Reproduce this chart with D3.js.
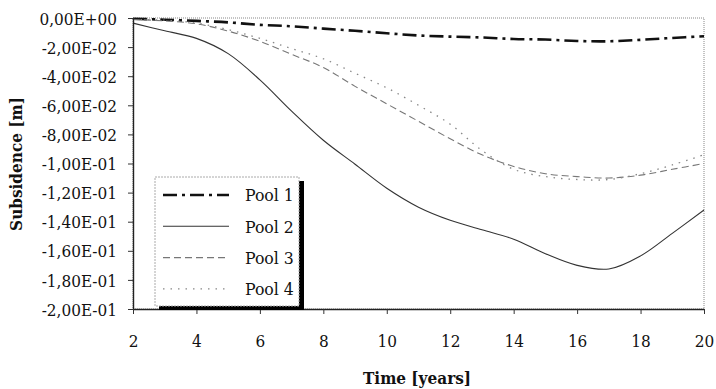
<!DOCTYPE html>
<html>
<head>
<meta charset="utf-8">
<script src="https://cdn.jsdelivr.net/npm/d3@7"></script>
<style>
  body { margin: 0; background: #fff; }
  svg text { font-family: "DejaVu Serif Condensed", "DejaVu Serif", serif; font-stretch: condensed; fill: #111; }
</style>
</head>
<body>
<div id="chart"></div>
<script>
// --------------------------------------------------
// Subsidence of the four pools over time

var years = [2, 3, 4, 5, 6, 7, 8, 9, 10, 11, 12, 13, 14, 15, 16, 17, 18, 19, 20];
var pool1 = [-0.0005, -0.0012, -0.002, -0.003, -0.0047, -0.0057, -0.0073, -0.0088, -0.0105, -0.012,
    -0.0128, -0.0134, -0.0144, -0.0148, -0.0158, -0.016, -0.015, -0.0137, -0.0125];
var pool2 = [-0.0035, -0.0088, -0.014, -0.0245, -0.0425, -0.064, -0.084, -0.1005, -0.117, -0.130,
    -0.139, -0.1455, -0.152, -0.162, -0.170, -0.1725, -0.1635, -0.148, -0.132];
var pool3 = [-0.001, -0.002, -0.004, -0.009, -0.016, -0.025, -0.034, -0.047, -0.059, -0.071,
    -0.083, -0.094, -0.102, -0.107, -0.109, -0.110, -0.108, -0.104, -0.100];
var pool4 = [-0.001, -0.0015, -0.0035, -0.008, -0.014, -0.021, -0.028, -0.038, -0.048, -0.060,
    -0.073, -0.091, -0.104, -0.109, -0.111, -0.111, -0.107, -0.101, -0.094];
var seriesNames = ["Pool 1", "Pool 2", "Pool 3", "Pool 4"];
var xTicks = [2, 4, 6, 8, 10, 12, 14, 16, 18, 20];
var yTicks = [0, -0.02, -0.04, -0.06, -0.08, -0.1, -0.12, -0.14, -0.16, -0.18, -0.2];

var margin = { left: 133, right: 12, top: 18, bottom: 80 };
var width = 716 - margin.left - margin.right;
var height = 389 - margin.top - margin.bottom;

var svg = d3.select("#chart")
    .append("svg")
    .attr("width", 716)
    .attr("height", 389);

var g = svg.append("g")
    .attr("transform", "translate(" + margin.left + ", " + margin.top + ")");

var x = d3.scaleLinear().domain([2, 20]).range([0, width]);
var y = d3.scaleLinear().domain([-0.2, 0]).range([height, 0]);

// excel style number format, comma as decimal mark
function sci(v) {
    if (Math.abs(v) < 1e-12) return "0,00E+00";
    var e = Math.floor(Math.log10(Math.abs(v)) + 1e-9);
    var m = (v / Math.pow(10, e)).toFixed(2).replace(".", ",");
    var es = (e < 0 ? "-" : "+") + (Math.abs(e) < 10 ? "0" : "") + Math.abs(e);
    return m + "E" + es;
}

// plot frame (dotted)
g.append("rect")
    .attr("x", 0).attr("y", 0)
    .attr("width", width).attr("height", height)
    .attr("fill", "none")
    .attr("stroke", "#888")
    .attr("stroke-width", 1)
    .attr("stroke-dasharray", "1,1");

// series lines
var styles = [
    { color: "#111", w: 2.6, dash: "14,5,3,5" },
    { color: "#333", w: 1.1, dash: null },
    { color: "#777", w: 1.1, dash: "7,4" },
    { color: "#888", w: 1.3, dash: "1.5,6" }
];
var allSeries = [pool1, pool2, pool3, pool4];

var line = d3.line()
    .x(function(d, i) { return x(years[i]); })
    .y(function(d) { return y(d); })
    .curve(d3.curveCatmullRom.alpha(0.5));

allSeries.forEach(function(s, i) {
    g.append("path")
        .datum(s)
        .attr("d", line)
        .attr("fill", "none")
        .attr("stroke", styles[i].color)
        .attr("stroke-width", styles[i].w)
        .attr("stroke-dasharray", styles[i].dash);
});

// y axis
var yAxisCall = d3.axisLeft(y)
    .tickValues(yTicks)
    .tickSize(5)
    .tickSizeOuter(0)
    .tickPadding(11)
    .tickFormat(sci);
var yAx = g.append("g")
    .attr("class", "y-axis")
    .call(yAxisCall);
yAx.select(".domain").attr("stroke", "#222").attr("stroke-width", 1.4);
yAx.selectAll("line").attr("stroke", "#333");
yAx.selectAll("text").attr("font-size", "17px").attr("dy", "0.36em");

// x axis
var xAxisCall = d3.axisBottom(x)
    .tickValues(xTicks)
    .tickSize(5)
    .tickSizeOuter(0)
    .tickPadding(21);
var xAx = g.append("g")
    .attr("class", "x-axis")
    .attr("transform", "translate(0, " + height + ")")
    .call(xAxisCall);
xAx.select(".domain").attr("stroke", "#222").attr("stroke-width", 1.4);
xAx.selectAll("line").attr("stroke", "#333");
xAx.selectAll("text").attr("font-size", "17px");

// legend with drop shadow
var lg = svg.append("g").attr("transform", "translate(155, 177)");
lg.append("rect")
    .attr("x", 4).attr("y", 4)
    .attr("width", 145).attr("height", 129)
    .attr("fill", "#000");
lg.append("rect")
    .attr("x", 0).attr("y", 0)
    .attr("width", 144).attr("height", 129)
    .attr("fill", "#fff")
    .attr("stroke", "#aaa")
    .attr("stroke-width", 1)
    .attr("stroke-dasharray", "2,1");

seriesNames.forEach(function(name, i) {
    var yy = 18 + i * 31.3;
    lg.append("line")
        .attr("x1", 8).attr("x2", 74)
        .attr("y1", yy).attr("y2", yy)
        .attr("stroke", styles[i].color)
        .attr("stroke-width", styles[i].w)
        .attr("stroke-dasharray", styles[i].dash);
    lg.append("text")
        .attr("x", 90)
        .attr("y", yy)
        .attr("dy", "0.36em")
        .attr("font-size", "17.5px")
        .text(name);
});

// x label
svg.append("text")
    .attr("x", 417)
    .attr("y", 384)
    .attr("font-size", "17px")
    .attr("font-weight", "bold")
    .attr("text-anchor", "middle")
    .text("Time [years]");

// y label
svg.append("text")
    .attr("transform", "translate(22, 164) rotate(-90)")
    .attr("font-size", "17px")
    .attr("font-weight", "bold")
    .attr("text-anchor", "middle")
    .text("Subsidence [m]");
</script>
</body>
</html>
